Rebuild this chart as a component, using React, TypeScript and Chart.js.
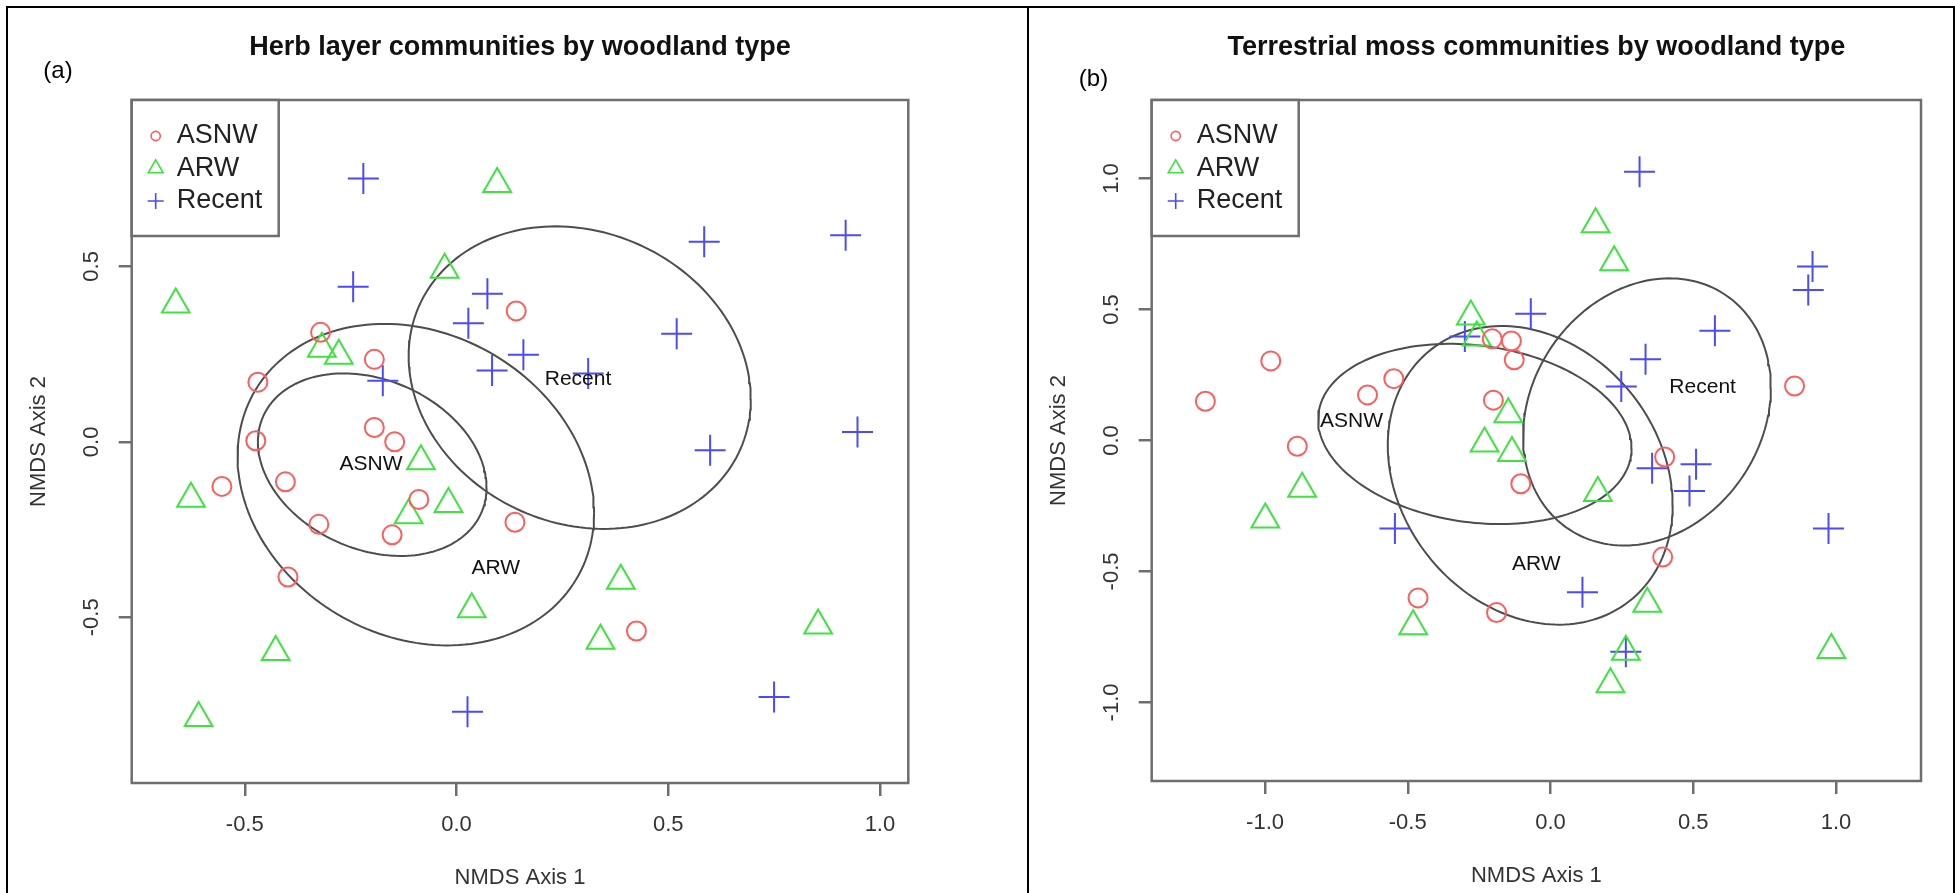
import React, { useEffect, useRef } from 'react';
import { Chart, registerables } from 'chart.js';

Chart.register(...registerables);

const FONT = '"Liberation Sans", Arial, Helvetica, sans-serif';

const GROUPS = ['ASNW', 'ARW', 'Recent'];
const GROUP_COLORS = ['#ff5c5c', '#3ee43e', '#4a4aff'];
const GROUP_STYLES = ['circle', 'triangle', 'cross'];
const GROUP_RADII = [9.5, 16, 15.5];

// ---------- Panel (a): herb layer ----------
const HERB_X_TICKS = [-0.5, 0.0, 0.5, 1.0];
const HERB_Y_TICKS = [-0.5, 0.0, 0.5];

const HERB_ASNW_X = [0.141, -0.321, -0.194, -0.469, -0.194, -0.146, -0.474, -0.554, -0.404, -0.089, -0.325, -0.152, 0.138, -0.398, 0.425];
const HERB_ASNW_Y = [0.373, 0.312, 0.235, 0.170, 0.041, 0.0, 0.003, -0.127, -0.114, -0.164, -0.235, -0.265, -0.229, -0.385, -0.539];
const HERB_ARW_X = [0.096, -0.028, -0.663, -0.318, -0.278, -0.084, -0.627, -0.019, -0.113, 0.388, 0.036, 0.854, 0.340, -0.427, -0.609];
const HERB_ARW_Y = [0.735, 0.490, 0.391, 0.265, 0.245, -0.055, -0.162, -0.177, -0.209, -0.396, -0.477, -0.523, -0.567, -0.599, -0.787];
const HERB_RECENT_X = [-0.220, 0.585, 0.919, -0.244, 0.073, 0.028, 0.520, 0.158, 0.084, 0.311, -0.174, 0.947, 0.599, 0.750, 0.026];
const HERB_RECENT_Y = [0.750, 0.570, 0.589, 0.442, 0.422, 0.338, 0.308, 0.248, 0.203, 0.195, 0.174, 0.028, -0.024, -0.727, -0.769];

// ellipse: centre, half-width, half-height, y-offset ratio at the rightmost point (tilt)
const HERB_ELL_CX = [-0.199, -0.096, 0.291];
const HERB_ELL_CY = [-0.065, -0.122, 0.183];
const HERB_ELL_AX = [0.270, 0.421, 0.404];
const HERB_ELL_AY = [0.260, 0.458, 0.431];
const HERB_ELL_TILT = [-0.25, -0.177, -0.142];
const HERB_LABEL_X = [-0.202, 0.093, 0.287];
const HERB_LABEL_Y = [-0.065, -0.360, 0.179];

// ---------- Panel (b): terrestrial moss ----------
const MOSS_X_TICKS = [-1.0, -0.5, 0.0, 0.5, 1.0];
const MOSS_Y_TICKS = [-1.0, -0.5, 0.0, 0.5, 1.0];

const MOSS_ASNW_X = [-1.209, -0.980, -0.887, -0.641, -0.549, -0.204, -0.137, -0.127, -0.200, -0.104, 0.400, 0.855, 0.393, -0.464, -0.189];
const MOSS_ASNW_Y = [0.150, 0.304, -0.022, 0.174, 0.236, 0.388, 0.380, 0.308, 0.154, -0.165, -0.063, 0.208, -0.445, -0.601, -0.657];
const MOSS_ARW_X = [0.158, 0.223, -0.279, -0.258, -0.148, -0.231, -0.135, -0.870, -0.999, 0.166, 0.339, -0.481, 0.264, 0.210, 0.984];
const MOSS_ARW_Y = [0.826, 0.681, 0.473, 0.393, 0.100, -0.011, -0.048, -0.184, -0.302, -0.200, -0.623, -0.709, -0.807, -0.931, -0.800];
const MOSS_RECENT_X = [0.312, 0.918, 0.903, -0.069, 0.576, -0.300, 0.333, 0.248, 0.356, 0.510, 0.487, -0.545, 0.974, 0.112, 0.264];
const MOSS_RECENT_Y = [1.026, 0.664, 0.575, 0.484, 0.419, 0.397, 0.310, 0.206, -0.106, -0.091, -0.193, -0.336, -0.336, -0.579, -0.807];

const MOSS_ELL_CX = [-0.265, -0.071, 0.338];
const MOSS_ELL_CY = [0.025, -0.133, 0.109];
const MOSS_ELL_AX = [0.549, 0.499, 0.434];
const MOSS_ELL_AY = [0.344, 0.570, 0.510];
const MOSS_ELL_TILT = [-0.16, -0.2, 0.182];
const MOSS_LABEL_X = [-0.697, -0.050, 0.533];
const MOSS_LABEL_Y = [0.072, -0.471, 0.202];

const BOX_COLOR = '#6e6e6e';
const AXIS_TEXT = '#333333';

type PanelDef = {
  title: string;
  letter: string;
  letterX: number;
  letterY: number;
  canvasLeft: number;
  canvasWidth: number;
  areaLeft: number;
  areaRight: number;
  areaBottom: number;
  xMin: number; xMax: number; yMin: number; yMax: number;
  xTicks: number[]; yTicks: number[];
  xs: number[][]; ys: number[][];
  ell: { cx: number[]; cy: number[]; ax: number[]; ay: number[]; tilt: number[] };
  labelX: number[]; labelY: number[];
};

const PANELS: PanelDef[] = [
  {
    title: 'Herb layer communities by woodland type',
    letter: '(a)', letterX: 58, letterY: 71,
    canvasLeft: 0, canvasWidth: 1028,
    areaLeft: 131.7, areaRight: 908.3, areaBottom: 783,
    xMin: -0.767, xMax: 1.067, yMin: -0.972, yMax: 0.974,
    xTicks: HERB_X_TICKS, yTicks: HERB_Y_TICKS,
    xs: [HERB_ASNW_X, HERB_ARW_X, HERB_RECENT_X],
    ys: [HERB_ASNW_Y, HERB_ARW_Y, HERB_RECENT_Y],
    ell: { cx: HERB_ELL_CX, cy: HERB_ELL_CY, ax: HERB_ELL_AX, ay: HERB_ELL_AY, tilt: HERB_ELL_TILT },
    labelX: HERB_LABEL_X, labelY: HERB_LABEL_Y,
  },
  {
    title: 'Terrestrial moss communities by woodland type',
    letter: '(b)', letterX: 1093.5 - 1028, letterY: 79,
    canvasLeft: 1028, canvasWidth: 927,
    areaLeft: 1151.7 - 1028, areaRight: 1921 - 1028, areaBottom: 781,
    xMin: -1.397, xMax: 1.298, yMin: -1.3, yMax: 1.3,
    xTicks: MOSS_X_TICKS, yTicks: MOSS_Y_TICKS,
    xs: [MOSS_ASNW_X, MOSS_ARW_X, MOSS_RECENT_X],
    ys: [MOSS_ASNW_Y, MOSS_ARW_Y, MOSS_RECENT_Y],
    ell: { cx: MOSS_ELL_CX, cy: MOSS_ELL_CY, ax: MOSS_ELL_AX, ay: MOSS_ELL_AY, tilt: MOSS_ELL_TILT },
    labelX: MOSS_LABEL_X, labelY: MOSS_LABEL_Y,
  },
];

const H = 893;
const AREA_TOP = 100;

function ellipsePoints(cx: number, cy: number, ax: number, ay: number, tilt: number) {
  const phi = Math.acos(tilt);
  const pts: { x: number; y: number }[] = [];
  const n = 180;
  for (let i = 0; i <= n; i++) {
    const t = (i / n) * Math.PI * 2;
    pts.push({ x: cx + ax * Math.cos(t), y: cy + ay * Math.cos(t - phi) });
  }
  return pts;
}

const fmt = (v: number) => Number(v).toFixed(1);

function drawSymbol(ctx: CanvasRenderingContext2D, style: string, x: number, y: number, r: number) {
  ctx.beginPath();
  if (style === 'circle') {
    ctx.arc(x, y, r, 0, Math.PI * 2);
  } else if (style === 'triangle') {
    ctx.moveTo(x, y - r);
    ctx.lineTo(x + r * 0.866, y + r / 2);
    ctx.lineTo(x - r * 0.866, y + r / 2);
    ctx.closePath();
  } else {
    ctx.moveTo(x - r, y); ctx.lineTo(x + r, y);
    ctx.moveTo(x, y - r); ctx.lineTo(x, y + r);
  }
  ctx.stroke();
}

const rPlotPlugin = {
  id: 'rPlot',
  afterDraw(chart: any, _args: any, opts: any) {
    const p: PanelDef = opts.panel;
    const { ctx, chartArea: a, scales } = chart;
    const xs = scales.x;
    const ys = scales.y;
    ctx.save();

    // plot box
    ctx.strokeStyle = BOX_COLOR;
    ctx.lineWidth = 2.5;
    ctx.strokeRect(a.left, a.top, a.right - a.left, a.bottom - a.top);

    // y tick labels (parallel to axis)
    ctx.fillStyle = AXIS_TEXT;
    ctx.font = `22px ${FONT}`;
    ctx.textAlign = 'center';
    ctx.textBaseline = 'middle';
    ys.ticks.forEach((t: any) => {
      const py = ys.getPixelForValue(t.value);
      ctx.save();
      ctx.translate(a.left - 40, py);
      ctx.rotate(-Math.PI / 2);
      ctx.fillText(fmt(t.value), 0, 0);
      ctx.restore();
    });

    // axis titles
    ctx.save();
    ctx.translate(a.left - 92.5, (a.top + a.bottom) / 2);
    ctx.rotate(-Math.PI / 2);
    ctx.fillText('NMDS Axis 2', 0, 0);
    ctx.restore();
    ctx.fillText('NMDS Axis 1', (a.left + a.right) / 2, a.bottom + 95);

    // main title
    ctx.fillStyle = '#111';
    ctx.font = `bold 27px ${FONT}`;
    ctx.textBaseline = 'alphabetic';
    ctx.fillText(p.title, (a.left + a.right) / 2, 55);

    // panel letter
    ctx.fillStyle = '#000';
    ctx.font = `24px ${FONT}`;
    ctx.textBaseline = 'middle';
    ctx.fillText(p.letter, p.letterX, p.letterY);

    // ellipse labels
    ctx.fillStyle = '#111';
    ctx.font = `21px ${FONT}`;
    GROUPS.forEach((g, i) => {
      ctx.fillText(g, xs.getPixelForValue(p.labelX[i]), ys.getPixelForValue(p.labelY[i]));
    });

    // legend
    const lx = a.left, ly = a.top, lw = 147, lh = 136;
    ctx.fillStyle = '#fff';
    ctx.fillRect(lx, ly, lw, lh);
    ctx.strokeStyle = BOX_COLOR;
    ctx.lineWidth = 2.5;
    ctx.strokeRect(lx, ly, lw, lh);
    const rows = [36, 68.5, 101];
    const legR = [4.6, 8.6, 8];
    GROUPS.forEach((g, i) => {
      ctx.strokeStyle = GROUP_COLORS[i];
      ctx.lineWidth = 1.6;
      drawSymbol(ctx, GROUP_STYLES[i], lx + 24, ly + rows[i], legR[i]);
      ctx.fillStyle = '#222';
      ctx.font = `27px ${FONT}`;
      ctx.textAlign = 'left';
      ctx.textBaseline = 'middle';
      ctx.fillText(g, lx + 45, ly + rows[i]);
    });

    ctx.restore();
  },
};

function buildConfig(p: PanelDef): any {
  const pointSets = GROUPS.map((g, i) => ({
    label: g,
    data: p.xs[i].map((x, k) => ({ x, y: p.ys[i][k] })),
    pointStyle: GROUP_STYLES[i],
    pointRadius: GROUP_RADII[i],
    borderColor: GROUP_COLORS[i],
    backgroundColor: 'rgba(0,0,0,0)',
    pointBorderWidth: 2,
    borderWidth: 2,
    showLine: false,
  }));
  const ellSets = GROUPS.map((g, i) => ({
    label: g + ' ellipse',
    data: ellipsePoints(p.ell.cx[i], p.ell.cy[i], p.ell.ax[i], p.ell.ay[i], p.ell.tilt[i]),
    showLine: true,
    pointRadius: 0,
    borderColor: '#4d4d4d',
    borderWidth: 2,
    fill: false,
    tension: 0,
  }));
  return {
    type: 'scatter',
    data: { datasets: [...pointSets, ...ellSets] },
    plugins: [rPlotPlugin],
    options: {
      responsive: false,
      animation: false,
      events: [],
      devicePixelRatio: 1,
      layout: {
        padding: { top: AREA_TOP, left: 0, bottom: 0, right: p.canvasWidth - p.areaRight },
      },
      plugins: {
        legend: { display: false },
        tooltip: { enabled: false },
        title: { display: false },
        rPlot: { panel: p },
      },
      scales: {
        x: {
          type: 'linear',
          position: 'bottom',
          min: p.xMin,
          max: p.xMax,
          afterBuildTicks: (s: any) => { s.ticks = p.xTicks.map((v) => ({ value: v })); },
          afterFit: (s: any) => { s.height = H - p.areaBottom; },
          border: { display: false },
          grid: { display: true, drawOnChartArea: false, drawTicks: true, tickLength: 13, color: BOX_COLOR, lineWidth: 2.5 },
          ticks: {
            autoSkip: false,
            maxRotation: 0,
            minRotation: 0,
            padding: 15.3,
            color: AXIS_TEXT,
            font: { family: FONT, size: 22 },
            callback: (v: any) => fmt(v),
          },
        },
        y: {
          type: 'linear',
          position: 'left',
          min: p.yMin,
          max: p.yMax,
          afterBuildTicks: (s: any) => { s.ticks = p.yTicks.map((v) => ({ value: v })); },
          afterFit: (s: any) => { s.width = p.areaLeft; },
          border: { display: false },
          grid: { display: true, drawOnChartArea: false, drawTicks: true, tickLength: 13, color: BOX_COLOR, lineWidth: 2.5 },
          ticks: { display: false },
        },
      },
    },
  };
}

function Panel({ p }: { p: PanelDef }) {
  const ref = useRef<HTMLCanvasElement>(null);
  useEffect(() => {
    if (!ref.current) return;
    const chart = new Chart(ref.current, buildConfig(p));
    return () => chart.destroy();
  }, [p]);
  return (
    <canvas
      ref={ref}
      width={p.canvasWidth}
      height={H}
      style={{ position: 'absolute', left: p.canvasLeft, top: 0, width: p.canvasWidth, height: H, display: 'block' }}
    />
  );
}

export default function App() {
  useEffect(() => {
    document.body.style.margin = '0';
    document.body.style.overflow = 'hidden';
  }, []);
  const line = (s: React.CSSProperties) => (
    <div style={{ position: 'absolute', background: '#000', zIndex: 2, ...s }} />
  );
  return (
    <div style={{ position: 'absolute', left: 0, top: 0, width: 1955, height: H, background: '#fff', overflow: 'hidden' }}>
      {PANELS.map((p) => (
        <Panel key={p.letter} p={p} />
      ))}
      {line({ left: 6, top: 6, width: 1949, height: 2 })}
      {line({ left: 6, top: 6, width: 2, height: H - 6 })}
      {line({ left: 1027, top: 6, width: 2, height: H - 6 })}
      {line({ left: 1953, top: 6, width: 2, height: H - 6 })}
    </div>
  );
}
